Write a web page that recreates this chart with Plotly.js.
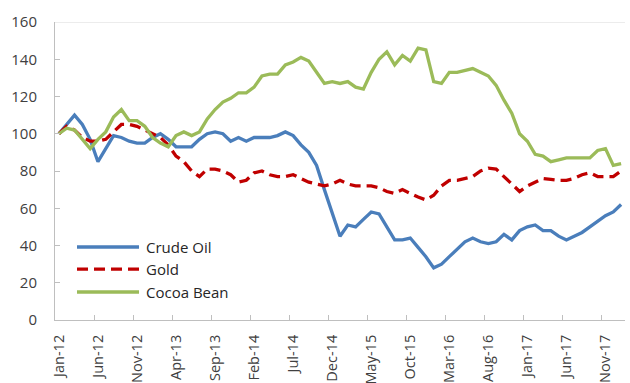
<!DOCTYPE html>
<html>
<head>
<meta charset="utf-8">
<script src="https://cdn.plot.ly/plotly-3.0.1.min.js"></script>
<style>
html,body{margin:0;padding:0;background:#fff;}
#chart{width:630px;height:383px;}
</style>
</head>
<body>
<div id="chart"></div>
<script>
var months = [
"Jan-12","Feb-12","Mar-12","Apr-12","May-12","Jun-12","Jul-12","Aug-12","Sep-12","Oct-12","Nov-12","Dec-12",
"Jan-13","Feb-13","Mar-13","Apr-13","May-13","Jun-13","Jul-13","Aug-13","Sep-13","Oct-13","Nov-13","Dec-13",
"Jan-14","Feb-14","Mar-14","Apr-14","May-14","Jun-14","Jul-14","Aug-14","Sep-14","Oct-14","Nov-14","Dec-14",
"Jan-15","Feb-15","Mar-15","Apr-15","May-15","Jun-15","Jul-15","Aug-15","Sep-15","Oct-15","Nov-15","Dec-15",
"Jan-16","Feb-16","Mar-16","Apr-16","May-16","Jun-16","Jul-16","Aug-16","Sep-16","Oct-16","Nov-16","Dec-16",
"Jan-17","Feb-17","Mar-17","Apr-17","May-17","Jun-17","Jul-17","Aug-17","Sep-17","Oct-17","Nov-17","Dec-17",
"Jan-18"
];
var crudeOil = [100,105,110,105,97,85,92,99,98,96,95,95,
98,100,97,93,93,93,97,100,101,100,96,98,
96,98,98,98,99,101,99,94,90,83,70,58,
45,51,50,54,58,57,50,43,43,44,39,34,
28,30,34,38,42,44,42,41,42,46,43,48,
50,51,48,48,45,43,45,47,50,53,56,58,
62];
var gold = [100,104,102,98,96,96,97,101,105,105,104,102,
100,98,94,88,85,80,77,81,81,80,78,74,
75,79,80,78,77,77,78,76,74,73,72,73,
75,73,72,72,72,71,69,68,70,68,66,64.5,
67,72,75,75,76,77,80,81.5,81,77,73,69,
72,74,76,75.5,75,75,76,78,79,77,77,77,
80];
var cocoaBean = [100,103,102,97,92,97,101,109,113,107,107,104,
98,95,93,99,101,99,101,108,113,117,119,122,
122,125,131,132,132,137,138.5,141,139,133,127,128,
127,128,125,124,133,140,144,137,142,139,146,145,
128,127,133,133,134,135,133,131,126,118,111,100,
96,89,88,85,86,87,87,87,87,91,92,83,
84];
var seriesNames = ["Crude Oil","Gold","Cocoa Bean"];
var seriesColors = ["#4A7EBB","#C00000","#9BBB59"];
var seriesDash = ["solid","11px,6px","solid"];
var yTicks = [0,20,40,60,80,100,120,140,160];

var seriesValues = [crudeOil, gold, cocoaBean];
var traces = seriesValues.map(function (vals, k) {
  return {x: months, y: vals, name: seriesNames[k], type: "scatter", mode: "lines",
          line: {color: seriesColors[k], width: 3.3, dash: seriesDash[k]},
          showlegend: false};
});

// legend drawn as line samples + text, placed in paper coordinates
var legendRowsY = [0.245, 0.171, 0.094];
var shapes = [
  {type: "line", xref: "paper", yref: "y", x0: 0, x1: 1, y0: 160, y1: 160,
   line: {color: "#D9D9D9", width: 1}}
];
var annotations = [];
seriesNames.forEach(function (nm, k) {
  shapes.push({type: "line", xref: "paper", yref: "paper",
    x0: 0.0386, x1: 0.1474, y0: legendRowsY[k], y1: legendRowsY[k],
    line: {color: seriesColors[k], width: 3.3, dash: seriesDash[k]}});
  annotations.push({xref: "paper", yref: "paper", x: 0.156, y: legendRowsY[k],
    xanchor: "left", yanchor: "middle", showarrow: false, text: nm,
    font: {size: 15, color: "#262626"}});
});

var layout = {
  width: 630, height: 383,
  margin: {l: 55, r: 5, t: 22, b: 63},
  paper_bgcolor: "#fff", plot_bgcolor: "#fff",
  font: {family: "Open Sans, sans-serif", size: 12, color: "#404040"},
  showlegend: false,
  xaxis: {
    type: "category", range: [-0.5, 72.5],
    tickmode: "linear", tick0: 0, dtick: 5, tickson: "boundaries",
    ticks: "inside", ticklen: 5, tickcolor: "#BFBFBF",
    tickangle: -90, tickfont: {size: 14.5, color: "#404040"},
    ticklabelstandoff: 8,
    showline: true, linecolor: "#BFBFBF", linewidth: 1,
    showgrid: false, zeroline: false, fixedrange: true
  },
  yaxis: {
    range: [0, 160], tickvals: yTicks,
    ticks: "inside", ticklen: 5, tickcolor: "#BFBFBF",
    tickfont: {size: 15, color: "#404040"},
    ticklabelstandoff: 14,
    showline: true, linecolor: "#BFBFBF", linewidth: 1,
    showgrid: false, zeroline: false, fixedrange: true
  },
  shapes: shapes,
  annotations: annotations
};

Plotly.newPlot("chart", traces, layout, {displayModeBar: false, staticPlot: true});
</script>
</body>
</html>
